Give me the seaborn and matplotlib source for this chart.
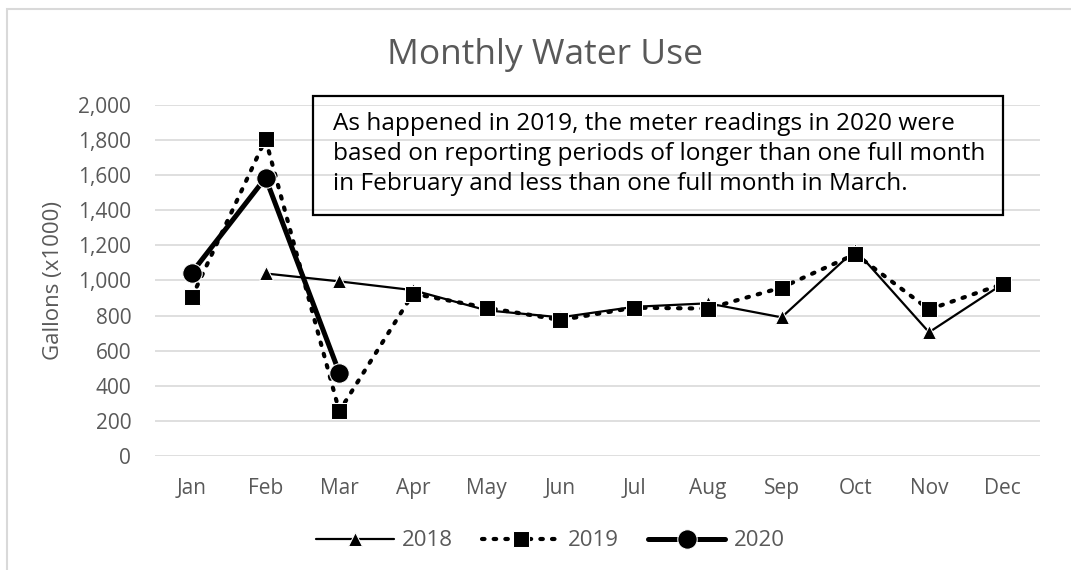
import numpy as np
import pandas as pd
import seaborn as sns
import matplotlib.pyplot as plt
from matplotlib.patches import Rectangle
from matplotlib.ticker import FuncFormatter

months = ['Jan', 'Feb', 'Mar', 'Apr', 'May', 'Jun', 'Jul', 'Aug', 'Sep', 'Oct', 'Nov', 'Dec']
use_2018 = [np.nan, 1040, 995, 945, 830, 790, 850, 870, 790, 1175, 705, 980]
use_2019 = [905, 1805, 255, 925, 845, 775, 845, 840, 960, 1150, 835, 980]
use_2020 = [1045, 1585, 475, np.nan, np.nan, np.nan, np.nan, np.nan, np.nan, np.nan, np.nan, np.nan]
note = ('As happened in 2019, the meter readings in 2020 were\n'
        'based on reporting periods of longer than one full month\n'
        'in February and less than one full month in March.')

sns.set_style('white')
plt.rcParams['font.family'] = ['Open Sans', 'DejaVu Sans']
grey = '#595959'

df = pd.DataFrame({'month': range(12), '2018': use_2018, '2019': use_2019, '2020': use_2020})

fig = plt.figure(figsize=(10.71, 5.7), dpi=100)
ax = fig.add_axes([0.1447, 0.2, 0.826, 0.6158])

# outer chart frame
fig.patches.append(Rectangle((0.0065, -0.1), 1.2, 1.084, transform=fig.transFigure,
                             fill=False, edgecolor='#d9d9d9', linewidth=1.5))

sns.lineplot(data=df, x='month', y='2018', ax=ax, color='black', linewidth=1.6,
             marker='^', markersize=10, label='2018')
sns.lineplot(data=df, x='month', y='2019', ax=ax, color='black', linewidth=3,
             linestyle=(0, (0.6, 2.2)), dash_capstyle='round', marker='s', markersize=11,
             label='2019')
sns.lineplot(data=df, x='month', y='2020', ax=ax, color='black', linewidth=3.6,
             marker='o', markersize=14, label='2020')

ax.set_xlim(-0.5, 11.5)
ax.set_ylim(0, 2000)
ax.set_yticks(range(0, 2001, 200))
ax.yaxis.set_major_formatter(FuncFormatter(lambda v, p: f'{int(v):,}'))
ax.set_xticks(range(12))
ax.set_xticklabels(months)
ax.grid(axis='y', color='#d9d9d9', linewidth=1.2)
ax.set_axisbelow(True)
for s in ax.spines.values():
    s.set_visible(False)
ax.tick_params(length=0, labelsize=15, labelcolor=grey)
ax.tick_params(axis='y', pad=17)
ax.tick_params(axis='x', pad=16)
ax.set_xlabel('')
ax.set_ylabel('Gallons (x1000)', fontsize=16, color=grey, labelpad=10)

fig.text(0.509, 0.9035, 'Monthly Water Use', ha='center', va='center', fontsize=25.5, color=grey)

# note box
ax.add_patch(Rectangle((0.1785, 0.6866), 0.78, 0.339, transform=ax.transAxes, fill=False,
                       edgecolor='black', linewidth=1.6, clip_on=False))
ax.text(0.201, 0.86, note, transform=ax.transAxes, ha='left', va='center', fontsize=17.6,
        color='black', linespacing=1.33)

ax.legend(loc='center', bbox_to_anchor=(0.447, -0.242), ncol=3, frameon=False,
          fontsize=16, labelcolor=grey, handlelength=3.5, columnspacing=1.3, handletextpad=0.36)

fig.savefig('out.png', dpi=100)
